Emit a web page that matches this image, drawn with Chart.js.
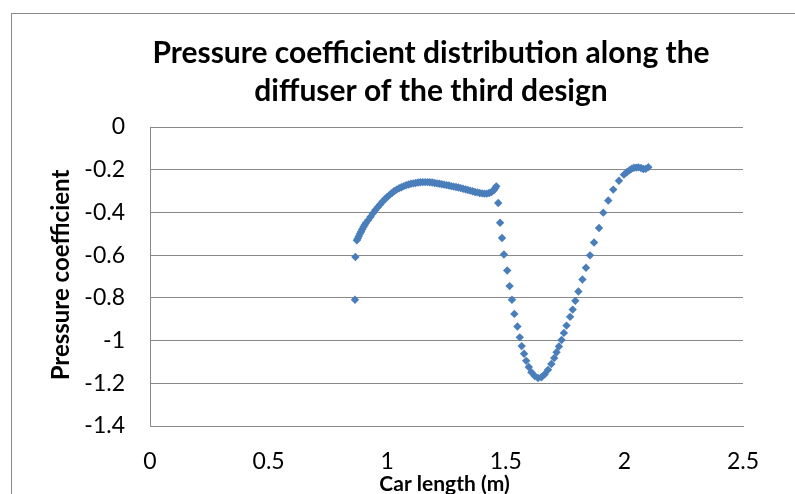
<!DOCTYPE html>
<html>
<head>
<meta charset="utf-8">
<script src="https://cdn.jsdelivr.net/npm/chart.js@4/dist/chart.umd.min.js"></script>
<style>
  html, body { margin: 0; padding: 0; background: #ffffff; }
  #wrap { position: relative; width: 795px; height: 494px; }
</style>
</head>
<body>
<div id="wrap"><canvas id="c" width="795" height="494"></canvas></div>
<script>
const chartTitle = ["Pressure coefficient distribution along the", "diffuser of the third design"];
const xAxisTitle = "Car length (m)";
const yAxisTitle = "Pressure coefficient";
const xTickLabels = ["0", "0.5", "1", "1.5", "2", "2.5"];
const yTickLabels = ["0", "-0.2", "-0.4", "-0.6", "-0.8", "-1", "-1.2", "-1.4"];

const carLength = [
  0.864, 0.866,
  0.872, 0.876, 0.880, 0.885, 0.890, 0.895, 0.900, 0.905, 0.910, 0.920,
  0.930, 0.940, 0.950, 0.960, 0.970, 0.980, 0.990, 1.000, 1.010, 1.020,
  1.030, 1.040, 1.050, 1.060, 1.070, 1.080, 1.090, 1.100, 1.110, 1.120,
  1.130, 1.140, 1.150, 1.160, 1.170, 1.180, 1.190, 1.200, 1.210, 1.220,
  1.230, 1.240, 1.250, 1.260, 1.270, 1.280, 1.290, 1.300, 1.310, 1.320,
  1.330, 1.340, 1.350, 1.360, 1.370, 1.380, 1.390, 1.400, 1.410, 1.420,
  1.430, 1.440, 1.450, 1.455, 1.460,
  1.468, 1.476, 1.484, 1.492, 1.506, 1.516, 1.526, 1.536, 1.549, 1.559,
  1.567, 1.577, 1.586, 1.597, 1.608, 1.622, 1.636, 1.650, 1.664, 1.678,
  1.692, 1.704, 1.714, 1.724, 1.735, 1.745, 1.756, 1.771, 1.782, 1.793,
  1.806, 1.823, 1.838, 1.855, 1.872, 1.893, 1.911, 1.932, 1.953, 1.977,
  1.998, 2.010, 2.021, 2.030, 2.040, 2.050, 2.059, 2.070, 2.080, 2.090, 2.101
];
const pressureCoeff = [
  -0.809, -0.609,
  -0.530, -0.522, -0.512, -0.500, -0.490, -0.479, -0.468, -0.459, -0.450, -0.436,
  -0.420, -0.404, -0.389, -0.376, -0.363, -0.350, -0.338, -0.328, -0.318, -0.309,
  -0.300, -0.293, -0.287, -0.282, -0.277, -0.273, -0.269, -0.266, -0.264, -0.262,
  -0.260, -0.259, -0.258, -0.258, -0.258, -0.259, -0.260, -0.262, -0.264, -0.266,
  -0.268, -0.270, -0.272, -0.274, -0.277, -0.279, -0.281, -0.283, -0.286, -0.289,
  -0.292, -0.295, -0.298, -0.301, -0.304, -0.306, -0.309, -0.311, -0.312, -0.312,
  -0.309, -0.304, -0.295, -0.287, -0.278,
  -0.356, -0.448, -0.520, -0.597, -0.672, -0.745, -0.809, -0.875, -0.934, -0.985,
  -1.026, -1.062, -1.095, -1.124, -1.148, -1.166, -1.175, -1.172, -1.158, -1.137,
  -1.110, -1.082, -1.055, -1.028, -0.997, -0.964, -0.930, -0.889, -0.855, -0.814,
  -0.770, -0.714, -0.659, -0.601, -0.541, -0.473, -0.401, -0.344, -0.293, -0.252,
  -0.223, -0.212, -0.203, -0.196, -0.191, -0.190, -0.189, -0.192, -0.197, -0.196, -0.188
];

const points = carLength.map((x, i) => ({ x: x, y: pressureCoeff[i] }));

const FONT = "Lato, 'Open Sans', sans-serif";
const GRID = "#898989";

const textPlugin = {
  id: "texts",
  afterDraw(chart) {
    const ctx = chart.ctx;
    const area = chart.chartArea;
    ctx.save();
    // outer chart border
    ctx.strokeStyle = GRID;
    ctx.lineWidth = 1;
    ctx.strokeRect(11.5, 13.5, 1000, 1000);
    ctx.fillStyle = "#000000";
    ctx.textAlign = "center";
    ctx.textBaseline = "middle";
    ctx.font = "bold 30px " + FONT;
    ctx.fillText(chartTitle[0], 431, 53);
    ctx.fillText(chartTitle[1], 431, 91);
    ctx.font = "bold 21px " + FONT;
    ctx.fillText(xAxisTitle, (area.left + area.right) / 2 - 2, 484);
    ctx.font = "bold 24px " + FONT;
    ctx.translate(61, 275);
    ctx.rotate(-Math.PI / 2);
    ctx.fillText(yAxisTitle, 0, 0);
    ctx.restore();
  }
};

new Chart(document.getElementById("c"), {
  type: "scatter",
  data: {
    datasets: [{
      label: "Pressure coefficient",
      data: points,
      pointStyle: "rectRot",
      pointRadius: 4.2,
      pointHoverRadius: 4.2,
      pointBackgroundColor: "#4a7ebb",
      pointBorderColor: "#4a7ebb",
      pointBorderWidth: 0,
      showLine: false
    }]
  },
  options: {
    responsive: false,
    animation: false,
    events: [],
    layout: { padding: { top: 127, right: 52, left: 0, bottom: 0 } },
    plugins: {
      legend: { display: false },
      title: { display: false },
      tooltip: { enabled: false }
    },
    scales: {
      x: {
        type: "linear",
        min: 0, max: 2.5,
        afterFit(scale) { scale.height = 68; },
        afterBuildTicks(scale) {
          scale.ticks = xTickLabels.map(v => ({ value: parseFloat(v) }));
        },
        ticks: {
          color: "#000000",
          font: { family: FONT, size: 23 },
          padding: 22,
          maxRotation: 0,
          autoSkip: false,
          callback: (v, i) => xTickLabels[i]
        },
        grid: { display: false, drawTicks: false },
        border: { display: true, color: GRID, width: 1 }
      },
      y: {
        type: "linear",
        min: -1.4, max: 0,
        afterFit(scale) { scale.width = 150; },
        afterBuildTicks(scale) {
          scale.ticks = yTickLabels.map(v => ({ value: parseFloat(v) }));
        },
        ticks: {
          color: "#000000",
          font: { family: FONT, size: 23 },
          padding: 25,
          autoSkip: false,
          callback: (v, i) => yTickLabels[i]
        },
        grid: { color: GRID, lineWidth: 1, drawTicks: false },
        border: { display: true, color: GRID, width: 1 }
      }
    }
  },
  plugins: [textPlugin]
});
</script>
</body>
</html>
